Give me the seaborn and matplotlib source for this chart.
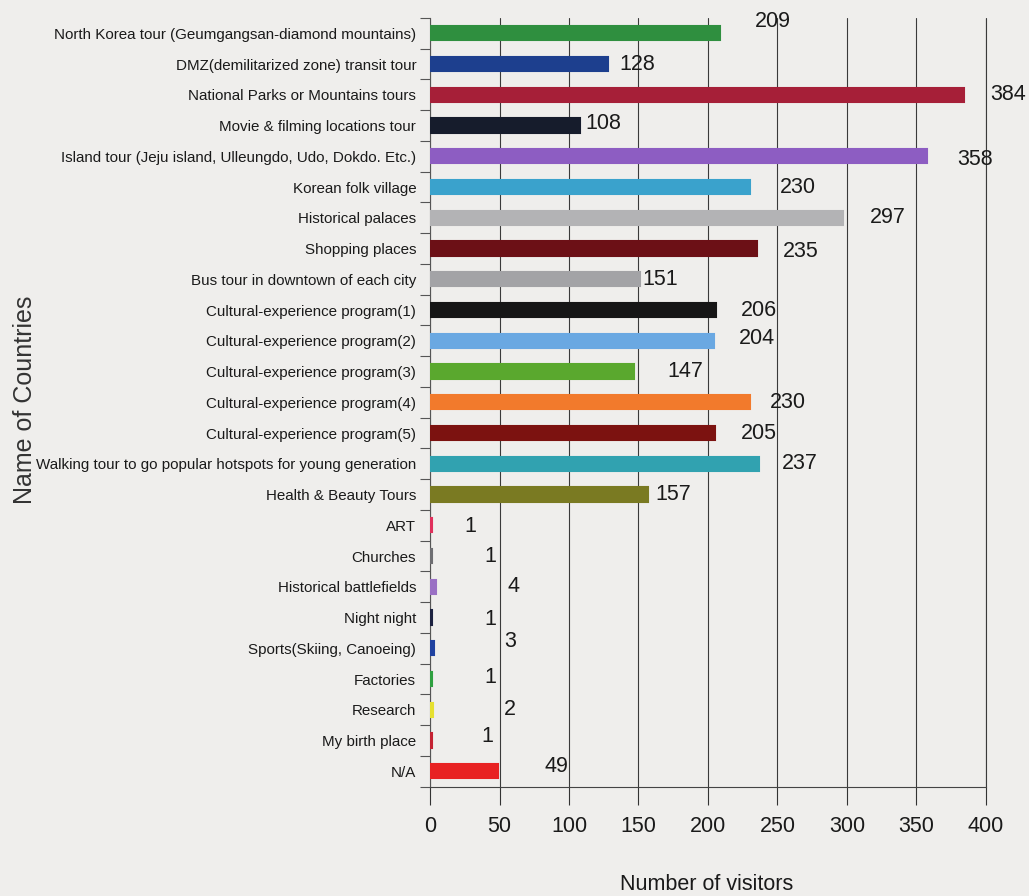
import matplotlib
matplotlib.use("Agg")
import matplotlib.pyplot as plt
import seaborn as sns
import pandas as pd
from matplotlib.ticker import FixedLocator

# --- Data ---
CATEGORIES = [
    "North Korea tour (Geumgangsan-diamond mountains)",
    "DMZ(demilitarized zone) transit tour",
    "National Parks or Mountains tours",
    "Movie & filming locations tour",
    "Island tour (Jeju island, Ulleungdo, Udo, Dokdo. Etc.)",
    "Korean folk village",
    "Historical palaces",
    "Shopping places",
    "Bus tour in downtown of each city",
    "Cultural-experience program(1)",
    "Cultural-experience program(2)",
    "Cultural-experience program(3)",
    "Cultural-experience program(4)",
    "Cultural-experience program(5)",
    "Walking tour to go popular hotspots for young generation",
    "Health & Beauty Tours",
    "ART",
    "Churches",
    "Historical battlefields",
    "Night night",
    "Sports(Skiing, Canoeing)",
    "Factories",
    "Research",
    "My birth place",
    "N/A",
]
VISITORS = [209, 128, 384, 108, 358, 230, 297, 235, 151, 206, 204, 147, 230,
            205, 237, 157, 1, 1, 4, 1, 3, 1, 2, 1, 49]
BAR_COLORS = [
    "#2f8f3f", "#1d3f8e", "#a61f38", "#161c2c", "#8d5dc2", "#3aa2cc",
    "#b3b3b5", "#6c1016", "#a3a3a6", "#161616", "#6aa8e2", "#5aa82e",
    "#f27a2c", "#7c1210", "#31a2b0", "#7a7a22", "#e0305c", "#6e6e72",
    "#9a70c4", "#1c2240", "#2042a0", "#2fa040", "#e6e030", "#c42232",
    "#e82222",
]

# value label placement (offset from bar end, in data units / category units)
LABEL_DX = [38, 21, 32, 16.5, 34, 35, 32.5, 32, 14.5, 31, 31, 37, 27.6,
            32, 29, 18, 28, 42, 56, 42, 54.5, 42, 55.5, 40, 41.6]
LABEL_DY = [-0.39, 0, 0, -0.07, 0.1, 0, 0, 0.1, 0, 0, -0.07, 0, 0,
            0, 0, 0, 0.03, 0, 0, 0.06, -0.23, -0.06, 0, -0.13, -0.16]

BG = "#efeeec"

sns.set_theme(style="white")
plt.rcParams["font.family"] = ["Liberation Sans", "DejaVu Sans"]

df = pd.DataFrame({"category": CATEGORIES, "visitors": VISITORS})

fig = plt.figure(figsize=(10.29, 8.96), dpi=100)
fig.patch.set_facecolor(BG)
ax = fig.add_axes([0.418, 0.122, 0.54, 0.858])
ax.set_facecolor(BG)

sns.barplot(data=df, y="category", x="visitors", hue="category",
            palette=BAR_COLORS, saturation=1, legend=False, width=0.46, ax=ax,
            zorder=3)
# give tiny bars a bit of visible thickness like the original
for patch, col in zip(ax.patches, BAR_COLORS):
    patch.set_edgecolor(col)
    patch.set_linewidth(1.5)

ax.set_xlim(0, 400)
ax.set_ylim(len(CATEGORIES) - 0.5, -0.5)
ax.set_xticks(range(0, 401, 50))
ax.xaxis.grid(True, color="#3a3a3a", linewidth=0.8, zorder=0)
ax.axvline(400, color="#3a3a3a", linewidth=0.8, clip_on=False, zorder=0)
ax.yaxis.grid(False)

for sp in ["top", "right"]:
    ax.spines[sp].set_visible(False)
ax.spines["left"].set_color("#555555")
ax.spines["bottom"].set_color("#444444")
ax.spines["left"].set_linewidth(0.8)
ax.spines["bottom"].set_linewidth(0.8)

ax.tick_params(axis="x", bottom=True, direction="out", length=13, width=0.8,
               color="#333333", pad=8, labelsize=15.5, labelcolor="#1a1a1a")
ax.tick_params(axis="y", which="major", left=True, length=0, pad=10,
               labelsize=10.9, labelcolor="#1a1a1a")
ax.yaxis.set_minor_locator(FixedLocator([i - 0.5 for i in range(len(CATEGORIES) + 1)]))
ax.tick_params(axis="y", which="minor", left=True, direction="out", length=7,
               width=0.8, color="#555555")

# value labels
for i, (v, dx, dy) in enumerate(zip(VISITORS, LABEL_DX, LABEL_DY)):
    ax.text(v + dx, i + dy, str(v), ha="center", va="center", fontsize=15.5,
            color="#1a1a1a", clip_on=False, zorder=5)

ax.set_ylabel("")
ax.set_xlabel("")
fig.text(0.024, 0.554, "Name of Countries", rotation=90, ha="center", va="center",
         fontsize=18, color="#333333")
fig.text(0.687, 0.013, "Number of visitors", ha="center", va="center",
         fontsize=15.5, color="#1a1a1a")

fig.savefig("out.png", dpi=100, facecolor=BG)
